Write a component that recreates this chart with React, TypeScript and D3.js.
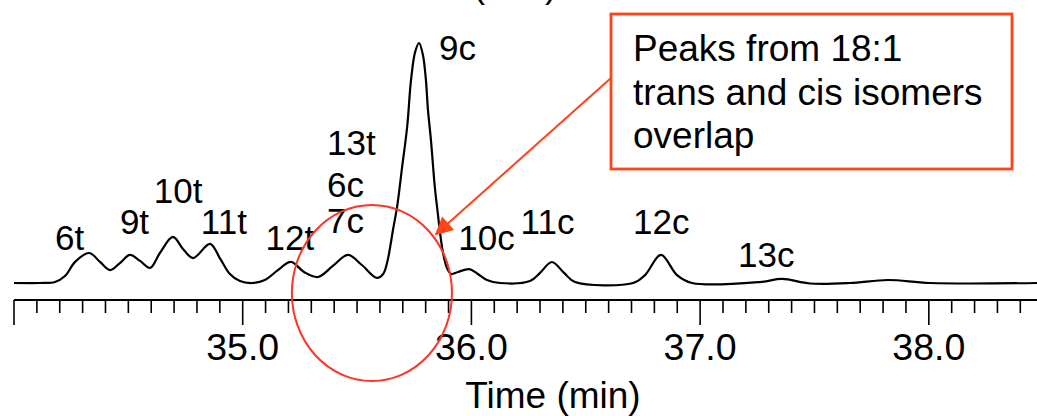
import React from "react";
import * as d3 from "d3";

// Chromatogram trace (time in min, detector signal in arbitrary units)
const traceTime = [
  34.0, 34.114, 34.179, 34.223, 34.267, 34.328, 34.376, 34.42, 34.463, 34.507,
  34.551, 34.595, 34.638, 34.695, 34.739, 34.783, 34.857, 34.9, 34.944, 34.988,
  35.041, 35.097, 35.154, 35.211, 35.268, 35.329, 35.394, 35.46, 35.521, 35.587,
  35.614, 35.631, 35.644, 35.657, 35.675, 35.697, 35.719, 35.736, 35.754, 35.771,
  35.788, 35.801, 35.81, 35.823, 35.84, 35.854, 35.863, 35.876, 35.893, 35.911,
  35.941, 35.99, 36.028, 36.068, 36.125, 36.256, 36.3, 36.352, 36.405, 36.453,
  36.707, 36.759, 36.829, 36.899, 36.965, 37.262, 37.358, 37.481, 37.655, 37.822,
  38.005, 38.473,
];
const traceSignal = [
  0, 0, 0.4, 2.9, 8.8, 12.5, 8.8, 5.4, 8.3, 11.7,
  9.2, 6.3, 12.5, 19.2, 14.2, 10.4, 16.3, 10.4, 3.75, 0.8,
  0, 1.25, 5.4, 8.8, 4.6, 2.5, 7.1, 11.7, 7.5, 2.1,
  3.75, 8.3, 14.6, 22.1, 31.7, 48.3, 65.0, 84.6, 96.3, 100,
  95.0, 84.6, 72.1, 59.6, 40.0, 28.3, 20.8, 12.5, 6.25, 3.75,
  4.6, 5.8, 3.75, 1.25, 0, 0.8, 4.2, 8.75, 4.2, 0.4,
  0, 3.3, 11.7, 3.3, 0, 0.4, 1.7, -0.2, 0, 1.25,
  0, 0,
];

// Peak labels and their anchors (time, signal)
const peakNames = ["6t", "9t", "10t", "11t", "12t", "13t", "6c", "7c", "9c", "10c", "11c", "12c", "13c"];
const peakLabelTime = [34.179, 34.463, 34.611, 34.817, 35.1, 35.369, 35.369, 35.369, 35.858, 35.943, 36.215, 36.707, 37.166];
const peakLabelSignal = [13.75, 20.4, 33.5, 20.4, 13.75, 53.3, 35.8, 20.8, 92.9, 13.75, 20.4, 20.4, 6.7];

// Axis
const axisDomain = [34.0, 38.473];
const majorTicks = [34.0, 35.0, 36.0, 37.0, 38.0];
const tickLabels = ["35.0", "36.0", "37.0", "38.0"];
const tickLabelValues = [35.0, 36.0, 37.0, 38.0];
const minorTickStart = 34.0;
const minorTickEnd = 38.4;
const minorTickStep = 0.1;
const xTitle = "Time (min)";
const topClippedTitle = "(mV)";

const calloutLines = ["Peaks from 18:1", "trans and cis isomers", "overlap"];
// Overlap region highlighted by the ellipse (time range)
const overlapRange = [35.215, 35.915];
const arrowTarget = { time: 35.863, signal: 20.0 };

const W = 1037;
const H = 416;
const FONT = "'Liberation Sans', Arial, Helvetica, sans-serif";

export default function App() {
  const x = d3.scaleLinear().domain(axisDomain).range([14, 1037]);
  const y = d3.scaleLinear().domain([0, 100]).range([283, 43]);
  const axisY = 300;

  const pts: [number, number][] = traceTime.map((t, i) => [t, traceSignal[i]]);
  const line = d3
    .line<[number, number]>()
    .x((d) => x(d[0]))
    .y((d) => y(d[1]))
    .curve(d3.curveCatmullRom.alpha(0.5));

  const minor = d3.range(minorTickStart, minorTickEnd + 1e-6, minorTickStep);
  const isMajor = (v: number) => majorTicks.some((m) => Math.abs(m - v) < 1e-6);

  const ellCx = (x(overlapRange[0]) + x(overlapRange[1])) / 2;
  const ellRx = (x(overlapRange[1]) - x(overlapRange[0])) / 2;

  const red = "#ff4418";

  const boxX = 611, boxY = 14, boxW = 401, boxH = 155;
  const arrowStart: [number, number] = [boxX, 78];
  const arrowEnd: [number, number] = [x(arrowTarget.time) - 4, y(arrowTarget.signal) - 1];

  return (
    <svg
      width={W}
      height={H}
      style={{ position: "absolute", left: 0, top: 0, background: "#fff" }}
      fontFamily={FONT}
    >
      <defs>
        <marker
          id="arrowhead"
          viewBox="0 0 10 10"
          refX="9"
          refY="5"
          markerWidth="11"
          markerHeight="9"
          markerUnits="strokeWidth"
          orient="auto"
        >
          <path d="M0,0 L10,5 L0,10 z" fill={red} />
        </marker>
      </defs>
      <rect x={0} y={0} width={W} height={H} fill="#fff" />

      {/* title clipped at the very top, as in the reference */}
      <text x={473} y={-3.5} fontSize={36} textLength={84} lengthAdjust="spacing" fill="#000">
        {topClippedTitle}
      </text>

      {/* trace */}
      <path d={line(pts) || ""} fill="none" stroke="#000" strokeWidth={2.2} strokeLinejoin="round" />

      {/* axis */}
      <line x1={x(axisDomain[0])} x2={W} y1={axisY} y2={axisY} stroke="#000" strokeWidth={2} />
      {minor.map((v, i) => (
        <line
          key={i}
          x1={x(v)}
          x2={x(v)}
          y1={axisY}
          y2={isMajor(v) ? 325 : 313}
          stroke="#000"
          strokeWidth={1.6}
        />
      ))}
      {tickLabels.map((lab, i) => (
        <text
          key={lab}
          x={x(tickLabelValues[i])}
          y={360}
          textAnchor="middle"
          fontSize={37.5}
          fill="#000"
        >
          {lab}
        </text>
      ))}
      <text x={553} y={408} textAnchor="middle" fontSize={37} fill="#000">
        {xTitle}
      </text>

      {/* peak labels */}
      {peakNames.map((n, i) => (
        <text key={n} x={x(peakLabelTime[i])} y={y(peakLabelSignal[i])} fontSize={35} fill="#000">
          {n}
        </text>
      ))}

      {/* callout box */}
      <rect x={boxX} y={boxY} width={boxW} height={boxH} fill="none" stroke={red} strokeWidth={2.8} />
      {calloutLines.map((l, i) => (
        <text key={i} x={633} y={61 + i * 43.5} fontSize={37} fill="#000">
          {l}
        </text>
      ))}
      <line
        x1={arrowStart[0]}
        y1={arrowStart[1]}
        x2={arrowEnd[0]}
        y2={arrowEnd[1]}
        stroke={red}
        strokeWidth={2}
        markerEnd="url(#arrowhead)"
      />

      {/* overlap ellipse */}
      <ellipse cx={ellCx} cy={293} rx={ellRx} ry={88} fill="none" stroke="#ff3326" strokeWidth={2} />
    </svg>
  );
}
